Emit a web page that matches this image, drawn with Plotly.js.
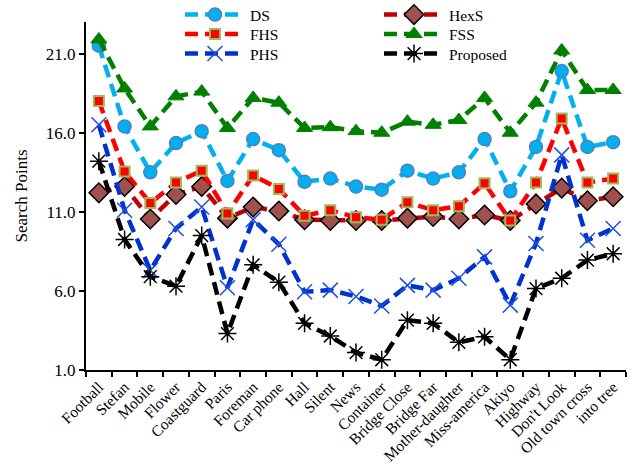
<!DOCTYPE html>
<html>
<head>
<meta charset="utf-8">
<script src="https://cdn.plot.ly/plotly-3.0.1.min.js"></script>
<style>html,body{margin:0;padding:0;background:#fff;}#chart{width:632px;height:474px;}</style>
</head>
<body>
<div id="chart"></div>
<script>
var categories = ["Football","Stefan","Mobile","Flower","Coastguard","Paris","Foreman","Car phone","Hall","Silent","News","Container","Bridge Close","Bridge Far","Mother-daughter","Miss-america","Akiyo","Highway","Don't Look","Old town cross","into tree"];
var DS       = [21.5,16.4,13.5,15.35,16.1,12.95,15.6,14.9,12.9,13.1,12.6,12.4,13.6,13.1,13.5,15.6,12.3,15.1,19.9,15.1,15.4];
var HexS     = [12.2,12.6,10.55,12.1,12.6,10.6,11.3,11.05,10.5,10.45,10.45,10.45,10.6,10.7,10.55,10.8,10.45,11.5,12.5,11.7,11.95];
var FHS      = [18.0,13.55,11.55,12.85,13.6,10.9,13.3,12.45,10.75,11.1,10.65,10.5,11.6,11.1,11.35,12.8,10.45,12.85,16.9,12.85,13.1];
var FSS      = [21.9,18.8,16.4,18.3,18.6,16.3,18.2,17.9,16.3,16.35,16.1,16.0,16.7,16.5,16.8,18.2,16.0,17.9,21.2,18.7,18.7];
var PHS      = [16.5,11.1,7.3,9.95,11.3,6.2,10.5,8.95,5.95,6.05,5.65,5.05,6.35,6.05,6.8,8.15,5.1,9.0,14.6,9.2,9.95];
var Proposed = [14.2,9.25,6.9,6.3,9.5,3.3,7.65,6.55,3.95,3.15,2.1,1.65,4.15,3.95,2.75,3.1,1.65,6.15,6.8,7.95,8.35];
var yTicks = [1,6,11,16,21];

var serif = "Liberation Serif";
var dashPat = "13px,7px";

function tr(name, y, lineColor, sym, size, fill, mlc, mlw, leg) {
  return {
    type: "scatter", mode: "lines+markers", name: name, legend: leg,
    x: categories, y: y,
    line: {color: lineColor, width: 4.5, dash: dashPat},
    marker: {symbol: sym, size: size, color: fill, line: {color: mlc, width: mlw}}
  };
}

var data = [
  tr("DS", DS, "#00B0F0", "circle", 13, "#00B0F0", "#4F81BD", 1.5, "legend"),
  tr("HexS", HexS, "#C00000", "diamond", 15, "#A0504D", "#000000", 1.5, "legend"),
  tr("FHS", FHS, "#FF0000", "square", 10, "#FF0000", "#9BBB59", 2, "legend2"),
  tr("FSS", FSS, "#008000", "triangle-up", 14, "#008000", "#008000", 1, "legend2"),
  tr("PHS", PHS, "#0033CC", "x-thin-open", 15, "#1F4FE0", "#1F4FE0", 1.5, "legend3"),
  tr("Proposed", Proposed, "#000000", "asterisk-open", 15, "#000000", "#000000", 1.5, "legend3")
];

function leg(yc) {
  return {
    orientation: "h", xref: "container", yref: "container",
    x: 180/632, y: 1 - yc/474, xanchor: "left", yanchor: "middle",
    entrywidth: 124, entrywidthmode: "pixels",
    itemwidth: 60, tracegroupgap: 0,
    font: {family: serif, size: 15.5, color: "#000"},
    bgcolor: "rgba(0,0,0,0)", borderwidth: 0
  };
}

var layout = {
  width: 632, height: 474,
  paper_bgcolor: "#ffffff", plot_bgcolor: "#ffffff",
  margin: {l: 86, r: 6, t: 22, b: 104, autoexpand: false},
  font: {family: serif, color: "#000000", size: 15},
  showlegend: true,
  legend: leg(15), legend2: leg(34.5), legend3: leg(54),
  xaxis: {
    type: "category", range: [-0.5, 20.5],
    tickson: "boundaries", ticks: "outside", ticklen: 5, tickwidth: 2, tickcolor: "#000",
    showline: true, linewidth: 2, linecolor: "#000",
    showgrid: false, zeroline: false,
    tickangle: -45, tickfont: {family: serif, size: 15.5, color: "#000"}
  },
  yaxis: {
    range: [1, 23], tickvals: yTicks, ticktext: yTicks.map(function(v){return v.toFixed(1);}),
    ticks: "outside", ticklen: 5, tickwidth: 2, tickcolor: "#000",
    showline: true, linewidth: 2, linecolor: "#000",
    showgrid: false, zeroline: false,
    tickfont: {family: serif, size: 17, color: "#000"},
    title: {text: "Search Points", font: {family: serif, size: 17, color: "#000"}, standoff: 14}
  }
};

Plotly.newPlot("chart", data, layout, {displayModeBar: false, staticPlot: true});
</script>
</body>
</html>
